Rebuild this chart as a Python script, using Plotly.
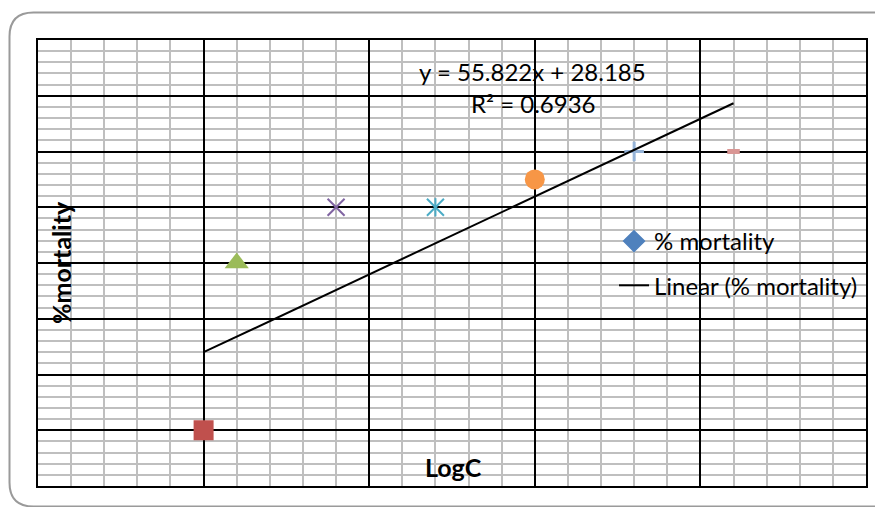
import plotly.graph_objects as go

# ---- data ----
log_c = [-0.075, -0.075, -0.025, 0.125, 0.275, 0.425, 0.575, 0.725]
mortality = [10, 10, 40, 50, 50, 55, 60, 60]
point_symbols = ["diamond", "square", "triangle-up", "x-thin", "x-thin",
                 "circle", "cross-thin", "line-ew"]
point_colors = ["#4F81BD", "#C0504D", "#9BBB59", "#8064A2", "#4BACC6",
                "#F79646", "#95B3D7", "#D99694"]
series_name = "% mortality"
trend_name = "Linear (% mortality)"
trend_slope = 55.822
trend_intercept = 28.185
equation_text = "y = 55.822x + 28.185"
r2_text = "R² = 0.6936"
x_title = "LogC"
y_title = "%mortality"

# ---- styling ----
OFF = 8                      # default body margin of the html page
W, H = 883 - OFF, 507 - OFF
L, R, T, B = 38, 866, 40, 486   # plot area in screen pixels
FONT = "Lato"
sizes = [13, 20, 21, 17, 17, 20, 14, 9]
line_types = {"x-thin", "cross-thin", "line-ew"}
line_widths = [0 if s not in line_types else (5 if s == "line-ew" else
               (3 if s == "cross-thin" else 2)) for s in point_symbols]

fig = go.Figure()

fig.add_trace(go.Scatter(
    x=log_c, y=mortality, mode="markers", name=series_name,
    legendgroup="a",
    marker=dict(symbol=point_symbols, color=point_colors, size=sizes,
                opacity=1,
                line=dict(color=point_colors, width=line_widths)),
))
# vertical arm of the asterisk marker (5th point)
fig.add_trace(go.Scatter(
    x=[log_c[4]], y=[mortality[4]], mode="markers", showlegend=False,
    marker=dict(symbol="line-ns", size=13, opacity=1,
                line=dict(color=point_colors[4], width=2)),
))

x_lo, x_hi = min(log_c), max(log_c)
fig.add_trace(go.Scatter(
    x=[x_lo, x_hi],
    y=[trend_slope * x_lo + trend_intercept, trend_slope * x_hi + trend_intercept],
    mode="lines", name=trend_name, legendgroup="b",
    line=dict(color="black", width=2),
))

def px2paper(px, py):
    return (px - L) / (R - L), (B - py) / (B - T)

# rounded outer border of the chart area (screen pixels)
x0, y0, x1, y1, rad = 9.5, 12.5, 897, 506.5, 24
pts = [
    ("M", x0 + rad, y0), ("L", x1 - rad, y0), ("Q", x1, y0, x1, y0 + rad),
    ("L", x1, y1 - rad), ("Q", x1, y1, x1 - rad, y1),
    ("L", x0 + rad, y1), ("Q", x0, y1, x0, y1 - rad),
    ("L", x0, y0 + rad), ("Q", x0, y0, x0 + rad, y0),
]
path = ""
for p in pts:
    cmd = p[0]
    coords = p[1:]
    segs = []
    for i in range(0, len(coords), 2):
        a, b = px2paper(coords[i], coords[i + 1])
        segs.append(f"{a:.5f},{b:.5f}")
    path += cmd + " ".join(segs) + " "
path += "Z"

def note(text, px, py, size, angle=0):
    x, y = px2paper(px, py)
    return dict(text=text, x=x, y=y, xref="paper", yref="paper",
                xanchor="center", yanchor="middle", showarrow=False,
                textangle=angle, font=dict(size=size, family=FONT))

fig.update_layout(
    width=W, height=H,
    margin=dict(l=L - OFF, r=883 - R, t=T - OFF, b=507 - B, pad=0),
    paper_bgcolor="white", plot_bgcolor="white",
    font=dict(family=FONT, color="black", size=24),
    showlegend=True,
    legend=dict(x=(614 - L) / (R - L), y=(B - 219) / (B - T),
                xanchor="left", yanchor="top",
                bgcolor="rgba(0,0,0,0)", font=dict(size=24, family=FONT),
                traceorder="grouped", tracegroupgap=10, itemsizing="trace"),
    shapes=[dict(type="path", path=path, xref="paper", yref="paper",
                 line=dict(color="#9a9a9a", width=2), layer="above")],
    annotations=[
        note(equation_text, 532, 72, 24),
        note(r2_text, 533, 104, 24),
        note(f"<b>{x_title}</b>", 453, 467, 25),
        note(f"<b>{y_title}</b>", 61, 263, 25, -90),
    ],
    xaxis=dict(range=[-0.325, 0.925], tick0=-0.325, dtick=0.25,
               showgrid=True, gridcolor="black", gridwidth=1.8,
               minor=dict(dtick=0.05, tick0=-0.325, showgrid=True,
                          gridcolor="#bfbfbf", gridwidth=1.6),
               showticklabels=False, ticks="", zeroline=False,
               showline=True, linecolor="black", linewidth=2, mirror=True),
    yaxis=dict(range=[0, 80], tick0=0, dtick=10,
               showgrid=True, gridcolor="black", gridwidth=1.8,
               minor=dict(dtick=2, tick0=0, showgrid=True,
                          gridcolor="#bfbfbf", gridwidth=1.6),
               showticklabels=False, ticks="", zeroline=False,
               showline=True, linecolor="black", linewidth=2, mirror=True),
)

fig.write_html("out.html")
